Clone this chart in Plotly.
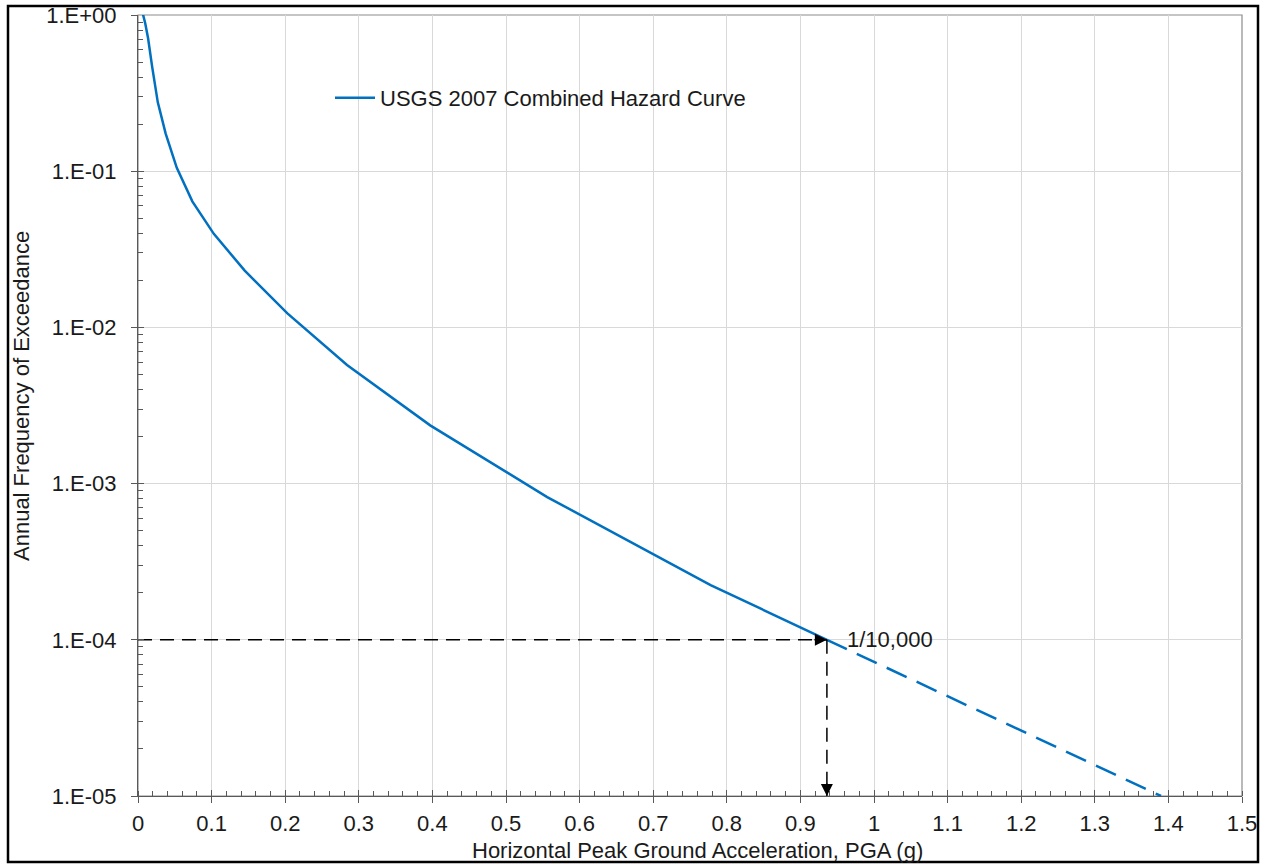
import plotly.graph_objects as go

# ---- data ----
pga = [0.005, 0.007, 0.0098, 0.0137, 0.0192, 0.0269, 0.0376, 0.0527, 0.0738, 0.103,
       0.145, 0.203, 0.284, 0.397, 0.556, 0.778, 0.936]
afe = [1.15, 1.0, 0.885, 0.71, 0.467, 0.276, 0.174, 0.105, 0.0641, 0.0397,
       0.0231, 0.0123, 0.00574, 0.00236, 0.00082, 0.000224, 0.0001]

ext_pga = [0.936, 1.39]
ext_afe = [0.0001, 0.00001]

target_afe = 0.0001
target_pga = 0.936
label_target = "1/10,000"

x_ticks = [round(i * 0.1, 1) for i in range(16)]
x_ticktext = ["0", "0.1", "0.2", "0.3", "0.4", "0.5", "0.6", "0.7", "0.8", "0.9",
              "1", "1.1", "1.2", "1.3", "1.4", "1.5"]
y_ticks = [1, 1e-1, 1e-2, 1e-3, 1e-4, 1e-5]
y_ticktext = ["1.E+00", "1.E-01", "1.E-02", "1.E-03", "1.E-04", "1.E-05"]
y_minor = [k * 10.0 ** e for e in range(-5, 0) for k in range(2, 10)]

series_name = "USGS 2007 Combined Hazard Curve"
x_title = "Horizontal Peak Ground Acceleration, PGA (g)"
y_title = "Annual Frequency of Exceedance"

FONT = "Arial, 'Liberation Sans', sans-serif"
FS = 22
BLUE = "#0070C0"
TXT = "#1a1a1a"

W, H = 1265, 865
L, R, T, B = 138, 23, 15, 69
PW, PH = W - L - R, H - T - B

fig = go.Figure()

fig.add_trace(go.Scatter(x=pga, y=afe, mode="lines", name=series_name,
                         line=dict(color=BLUE, width=2.5)))
fig.add_trace(go.Scatter(x=ext_pga, y=ext_afe, mode="lines", showlegend=False,
                         line=dict(color=BLUE, width=2.5, dash="22px,11px")))
# dashed guide lines
fig.add_trace(go.Scatter(x=[0, target_pga], y=[target_afe, target_afe], mode="lines",
                         showlegend=False, line=dict(color="black", width=1.5, dash="14px,8px")))
fig.add_trace(go.Scatter(x=[target_pga, target_pga], y=[target_afe, y_ticks[-1]], mode="lines",
                         showlegend=False, line=dict(color="black", width=1.5, dash="14px,8px")))
# dummy traces for overlay axes (inner half of major ticks)
fig.add_trace(go.Scatter(x=[None], y=[None], xaxis="x2", yaxis="y", showlegend=False, hoverinfo="skip"))
fig.add_trace(go.Scatter(x=[None], y=[None], xaxis="x", yaxis="y2", showlegend=False, hoverinfo="skip"))

axis_common = dict(showline=True, linecolor="#595959", linewidth=1, automargin=False,
                   ticks="outside", ticklen=6, tickcolor="#595959", tickwidth=1,
                   showgrid=True, gridcolor="#D9D9D9", gridwidth=1, zeroline=False,
                   tickfont=dict(family=FONT, size=FS, color=TXT))

fig.update_layout(
    width=W, height=H,
    margin=dict(l=L, r=R, t=T, b=B, autoexpand=False),
    paper_bgcolor="white", plot_bgcolor="white",
    font=dict(family=FONT, size=FS, color=TXT),
    xaxis=dict(range=[0, 1.5], tickmode="array", tickvals=x_ticks, ticktext=x_ticktext,
               ticklabelstandoff=2,
               minor=dict(dtick=0.02, tick0=0, ticks="inside", ticklen=5,
                          tickcolor="#595959", showgrid=False),
               **axis_common),
    yaxis=dict(type="log", range=[-5, 0], tickmode="array", tickvals=y_ticks, ticktext=y_ticktext,
               ticklabelstandoff=10,
               minor=dict(tickmode="array", tickvals=y_minor, ticks="inside", ticklen=5,
                          tickcolor="#595959", showgrid=False),
               **axis_common),
    xaxis2=dict(overlaying="x", anchor="y", side="bottom", range=[0, 1.5], automargin=False,
                tickmode="array", tickvals=x_ticks, ticks="inside", ticklen=6,
                tickcolor="#595959", showticklabels=False, showgrid=False,
                showline=False, zeroline=False),
    yaxis2=dict(overlaying="y", anchor="x", side="left", type="log", range=[-5, 0],
                automargin=False,
                tickmode="array", tickvals=y_ticks, ticks="inside", ticklen=6,
                tickcolor="#595959", showticklabels=False, showgrid=False,
                showline=False, zeroline=False),
    legend=dict(x=(330 - L) / PW, y=(T + PH - 98) / PH, xanchor="left", yanchor="middle",
                bgcolor="rgba(0,0,0,0)", font=dict(family=FONT, size=FS, color=TXT),
                itemwidth=40),
    showlegend=True,
)

# plot-area frame (top/right light grey) and outer picture frame
fig.add_shape(type="rect", xref="paper", yref="paper", x0=0, x1=1, y0=0, y1=1,
              line=dict(color="#8C8C8C", width=1.2), layer="below")
fig.add_shape(type="rect", xref="paper", yref="paper",
              x0=(8 - L) / PW, x1=(1258 - L) / PW,
              y0=(T + PH - 862) / PH, y1=(T + PH - 6) / PH,
              line=dict(color="black", width=2.5))

# arrow heads
fig.add_annotation(x=target_pga, y=-4, xref="x", yref="y", text="", showarrow=True,
                   ax=-14, ay=0, arrowhead=2, arrowsize=1.6, arrowwidth=1.5,
                   arrowcolor="black", standoff=0)
fig.add_annotation(x=target_pga, y=-5, xref="x", yref="y", text="", showarrow=True,
                   ax=0, ay=-14, arrowhead=2, arrowsize=1.6, arrowwidth=1.5,
                   arrowcolor="black", standoff=0)
fig.add_annotation(x=0.9606, y=-4, xref="x", yref="y", text=label_target, showarrow=False,
                   xanchor="left", yanchor="middle", font=dict(family=FONT, size=FS, color=TXT))

# axis titles
fig.add_annotation(x=(697 - L) / PW, y=(T + PH - 851) / PH, xref="paper", yref="paper",
                   text=x_title, showarrow=False, xanchor="center", yanchor="middle",
                   font=dict(family=FONT, size=FS, color=TXT))
fig.add_annotation(x=(21 - L) / PW, y=(T + PH - 396) / PH, xref="paper", yref="paper",
                   text=y_title, showarrow=False, textangle=-90, xanchor="center",
                   yanchor="middle", font=dict(family=FONT, size=FS, color=TXT))

post = ("document.documentElement.style.margin='0';document.body.style.margin='0';"
        "document.body.style.padding='0';document.body.style.overflow='hidden';"
        "var d=document.getElementById('{plot_id}');d.style.position='absolute';"
        "d.style.left='0px';d.style.top='0px';")

fig.write_html("out.html", post_script=post, config={"displayModeBar": False})
